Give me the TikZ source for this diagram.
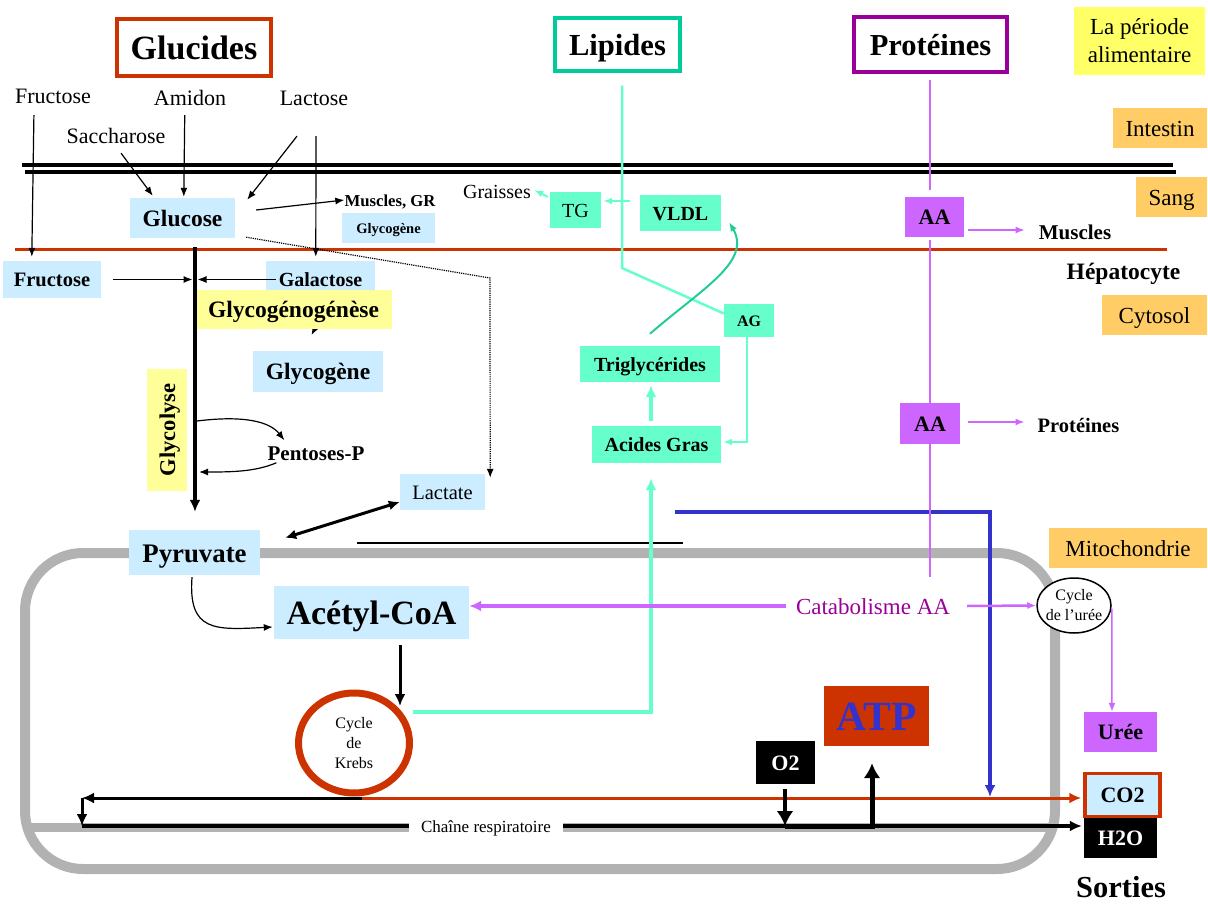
\documentclass[tikz,border=0pt]{standalone}
\usepackage{fontspec}
\setmainfont{Liberation Serif}
\usetikzlibrary{calc,arrows.meta,shapes.geometric,backgrounds}

\definecolor{brick}{HTML}{CC3300}
\definecolor{skyfill}{HTML}{CCECFF}
\definecolor{paleyel}{HTML}{FFFF99}
\definecolor{brightyel}{HTML}{FFFF66}
\definecolor{orangefill}{HTML}{FFCC66}
\definecolor{mint}{HTML}{66FFCC}
\definecolor{vldlgreen}{HTML}{22CC99}
\definecolor{lipteal}{HTML}{00CC99}
\definecolor{plum}{HTML}{990099}
\definecolor{lilac}{HTML}{CC66FF}
\definecolor{indigoline}{HTML}{3333CC}
\definecolor{membgray}{HTML}{B2B2B2}

\newcommand{\fsz}[1]{\fontsize{#1}{#1}\selectfont}

\tikzset{
	lbl/.style={inner sep=0pt, align=center, font=\fsz{#1}, text height=#1*0.72pt, text depth=0pt},
	lbl/.default=22,
	blbl/.style={inner sep=0pt, align=center, font=\fsz{#1}\bfseries, text height=#1*0.72pt, text depth=0pt},
	blbl/.default=22,
	skybox/.style={blbl=#1, fill=skyfill},
	skybox/.default=22,
	mintbox/.style={blbl=#1, fill=mint},
	mintbox/.default=20,
	lilacbox/.style={blbl=#1, fill=lilac},
	lilacbox/.default=22,
	blackbox/.style={blbl=#1, fill=black, text=white},
	blackbox/.default=22,
	tagbox/.style={lbl=23, fill=orangefill},
	titlebox/.style={blbl=#1, line width=3.5pt},
	thinarr/.style={-{Latex[length=9pt,width=7pt]}, line width=1.2pt},
	boldarr/.style={-{Latex[length=12pt,width=11pt]}, line width=3.5pt},
	bigarr/.style={-{Latex[length=15pt,width=17pt]}, line width=5pt},
	dblarr/.style={{Latex[length=11pt,width=10pt]}-{Latex[length=11pt,width=10pt]}, line width=3pt},
}

\begin{document}
\begin{tikzpicture}[x=1pt,y=-1pt]
	\useasboundingbox (0,0) rectangle (1208,904);

	%membranes
	\draw[line width=3.5pt] (22,165)--(1173,165);		%intestin, upper
	\draw[line width=3.5pt] (25,172)--(1176,172);		%intestin, lower
	\draw[brick,line width=3.5pt] (15,249.5)--(1167,249.5);	%hepatocyte
	\draw[membgray,line width=10pt,rounded corners=58pt] (25,553) rectangle (1055,869);	%mitochondrie
	\draw[membgray,line width=9pt] (25,827)--(1055,827);	%crete
	\draw[line width=1.5pt] (357,543)--(683,543);

	%titles
	\node[titlebox=34,draw=brick,minimum width=154,minimum height=57] (glucides) at (194,47.5) {Glucides};
	\node[titlebox=30.6,draw=lipteal,minimum width=125,minimum height=53] (lipides) at (617.5,44.5) {Lipides};
	\node[titlebox=30.5,draw=plum,minimum width=153,minimum height=55] (proteines) at (930.5,44.5) {Protéines};

	%compartments
	\node[inner sep=0pt,align=center,fill=brightyel,minimum width=131,minimum height=68,font=\fontsize{23}{28}\selectfont] (periode) at (1139.5,41) {La période\\alimentaire};
	\node[tagbox,minimum width=94,minimum height=40] (intestin) at (1160,128) {Intestin};
	\node[tagbox,minimum width=71,minimum height=40] (sang) at (1171.5,197) {Sang};
	\node[blbl=23.5] (hepato) at (1123.5,271) {Hépatocyte};
	\node[tagbox,minimum width=105,minimum height=40] (cytosol) at (1154.5,315) {Cytosol};
	\node[tagbox,minimum width=158,minimum height=40] (mito) at (1128,548) {Mitochondrie};

	%glucides
	\node[lbl] (fructA) at (53,96) {Fructose};
	\node[lbl] (amidon) at (190,98) {Amidon};
	\node[lbl] (lactose) at (314,98) {Lactose};
	\node[lbl] (saccharose) at (116,136) {Saccharose};
	\node[skybox=23.5,minimum width=105,minimum height=40] (glucose) at (182.5,218) {Glucose};
	\node[blbl=16.7] (musclesgr) at (390,200) {Muscles, GR};
	\node[skybox=14.5,minimum width=93,minimum height=30] (glycogeneM) at (388.5,228) {Glycogène};
	\node[skybox=20.5,minimum width=98,minimum height=37] (fructose) at (52,279.5) {Fructose};
	\node[skybox=20,minimum width=109,minimum height=37] (galactose) at (320.5,279.5) {Galactose};
	\node[blbl=23.5,fill=paleyel,minimum width=197,minimum height=39] (glycogenese) at (293.5,309.5) {Glycogénogénèse};
	\node[skybox=23.5,minimum width=130,minimum height=41] (glycogene) at (318,371.5) {Glycogène};
	\node[blbl=22.5,fill=paleyel,rotate=90,minimum width=122,minimum height=40] (glycolyse) at (167,430) {Glycolyse};
	\node[blbl=21] (pentoses) at (316,453) {Pentoses-P};
	\node[lbl=20.5,fill=skyfill,minimum width=85,minimum height=36] (lactate) at (442.5,492) {Lactate};
	\node[skybox=26.8,minimum width=131,minimum height=45] (pyruvate) at (194.5,552.5) {Pyruvate};
	\node[skybox=34,minimum width=195,minimum height=53] (acetyl) at (371.5,612.5) {Acétyl-CoA};
	\node[ellipse,draw=brick,line width=7pt,minimum width=111,minimum height=100,inner sep=0pt,align=center,font=\fontsize{16}{20}\selectfont] (krebs) at (354,743) {Cycle\\de\\Krebs};

	%lipides
	\node[lbl=20,fill=mint,minimum width=51,minimum height=36] (tg) at (575.5,210) {TG};
	\node[lbl=20] (graisses) at (497,191) {Graisses};
	\node[mintbox,minimum width=81,minimum height=36] (vldl) at (680.5,213) {VLDL};
	\node[mintbox=16,minimum width=50,minimum height=33] (ag) at (749,320.5) {AG};
	\node[mintbox,minimum width=140,minimum height=36] (trigly) at (650,364) {Triglycérides};
	\node[mintbox,minimum width=129,minimum height=37] (acidesgras) at (656.5,444.5) {Acides Gras};

	%proteines
	\node[lilacbox,minimum width=59,minimum height=40] (aa1) at (934.5,217) {AA};
	\node[blbl=21] (muscles) at (1075,232) {Muscles};
	\node[lilacbox,minimum width=60,minimum height=41] (aa2) at (930,423.5) {AA};
	\node[blbl=20.5] (proteinesB) at (1078.5,425) {Protéines};
	\node[lbl=23,text=plum] (catabolisme) at (873,606) {Catabolisme AA};
	\node[ellipse,draw,fill=white,line width=1.5pt,minimum width=74,minimum height=55,inner xsep=-5pt,inner ysep=0pt,align=center,font=\fontsize{16}{20}\selectfont] (cycleuree) at (1074,605.5) {Cycle\\de l’urée};

	%sorties
	\node[lilacbox,minimum width=73,minimum height=40] (uree) at (1120.5,732) {Urée};
	\node[blackbox,minimum width=73,minimum height=40] (h2o) at (1120.5,838) {H2O};
	\node[skybox,draw=brick,line width=3.5pt,minimum width=75,minimum height=43] (co2) at (1122.5,795) {CO2};
	\node[blbl=30.5] (sorties) at (1121,887) {Sorties};
	\node[blackbox,minimum width=59,minimum height=43] (o2) at (785.5,762.5) {O2};
	\node[blbl=41.5,fill=brick,text=indigoline,minimum width=105,minimum height=60] (atp) at (876.5,716) {ATP};
	\node[lbl=17,fill=white,minimum width=154,minimum height=14] (chaine) at (486,826) {Chaîne respiratoire};

	%glucides arrows
	\draw[thinarr] ($(fructA.south west)+(19,11)$) -- ($(fructose.north west)+(29,-4)$);
	\draw[thinarr] ($(amidon.south west)+(31,9)$) -- ($(glucose.north west)+(54,-1)$);
	\draw[thinarr] ($(saccharose.south)+(5,9)$) -- ($(glucose.north west)+(23,-2)$);
	\draw[thinarr] ($(lactose.south)+(-17,30)$) -- ($(glucose.north east)+(12,2)$);
	\draw[thinarr] ($(lactose.south)+(2,30)$) -- ($(galactose.north west)+(50,-4)$);
	\draw[thinarr] ($(glucose.east)+(21,-8)$) -- (musclesgr.west);
	\coordinate (dotbend) at (490,278);
	\draw[thinarr,densely dotted] ($(glucose.south east)+(11,-1)$) -- (dotbend) -- ($(lactate.north east)+(5,4)$);
	\draw[boldarr] ($(glucose.south)+(12.5,9)$) -- ($(pyruvate.north)+(0.5,-18)$);	%glycolyse
	\coordinate (junction) at (195,279.5);
	\draw[thinarr] ($(fructose.east)+(12,0)$) -- ($(junction)+(-2.5,0)$);
	\draw[thinarr] ($(galactose.west)+(10,0)$) -- ($(junction)+(2.5,0)$);
	\begin{scope}[on background layer]
		\draw[thinarr] ($(glycogenese.south)+(25,-8)$) -- ($(glycogenese.south)+(18,6)$);
	\end{scope}
	%pentoses
	\coordinate (pentout) at (197,421);
	\coordinate (pentin) at (199,472);
	\draw[thinarr] (pentout) .. controls (245,415) and (270,422) .. ($(pentoses.north west)+(17,-5)$);
	\draw[thinarr] ($(pentoses.south west)+(9,2)$) .. controls (255,472) and (230,472) .. (pentin);
	\draw[dblarr] ($(pyruvate.north east)+(25,8)$) -- ($(lactate.west)+(0,10)$);
	\draw[thinarr] ($(pyruvate.south)+(-2.5,2)$) .. controls (188,632) and (215,630) .. ($(acetyl.west)+(-1,14.5)$);
	\draw[boldarr,line width=3pt] ($(acetyl.south)+(28.5,6)$) -- ($(krebs.center)+(46,-37)$);

	%chaine respiratoire
	\coordinate (chainL) at (82,798);
	\coordinate (chainB) at (82,826);
	\draw[brick,boldarr,line width=3pt] ($(krebs.center)+(8,55)$) -- ($(co2.west)+(-2,3)$);
	\draw[boldarr,line width=3pt] ($(krebs.center)+(8,55)$) -- (chainL);
	\draw[boldarr,line width=3pt] (chainL) -- (chainB);
	\draw[line width=4pt] (chainB) -- (chaine.west);
	\draw[boldarr,line width=4pt] (chaine.east) -- ($(h2o.west)+(-2,-12)$);
	\coordinate (o2in) at (785,826);
	\draw[bigarr,line width=4pt] ($(o2.south)+(-0.5,5)$) -- (o2in);
	\draw[bigarr] (o2in) -| ($(atp.south)+(-4.5,17)$);
	\coordinate (bluestart) at (675,512);
	\coordinate (bluedrop) at (990,797);
	\draw[indigoline,boldarr,line width=4pt] (bluestart) -| (bluedrop);

	%lipides arrows
	\draw[mint,boldarr,line width=4pt] ($(krebs.center)+(59,-31)$) -| ($(acidesgras.south)+(-5.5,15)$);
	\draw[mint,boldarr,line width=4pt] ($(acidesgras.north)+(-5.5,-5)$) -- ($(trigly.south)+(1,3)$);
	\draw[mint,thinarr,line width=2.5pt] ($(ag.south)+(-2,0)$) |- ($(acidesgras.east)+(2,-2.5)$);
	\coordinate (lipbend) at (622,268);
	\draw[mint,line width=2.5pt] ($(lipides.south)+(4.5,13)$) -- (lipbend) -- ($(ag.west)+(0,-7)$);
	\coordinate (tgfeed) at (630,201);
	\draw[mint,thinarr,line width=2pt] (tgfeed) -- ($(tg.east)+(2,-9)$);
	\draw[mint,thinarr,line width=2pt] ($(tg.north west)+(-2,5)$) -- ($(graisses.east)+(3,-1)$);
	\draw[vldlgreen,thinarr,line width=2pt] ($(trigly.north)+(0,-12)$) .. controls (700,290) and (752,262) .. ($(vldl.south east)+(8,-9)$);

	%proteines arrows
	\draw[lilac,line width=2pt] ($(proteines.south)+(-0.5,6)$) -- ($(aa1.north)+(-4.5,-7)$);
	\draw[lilac,line width=2pt] ($(aa1.south)+(-4.5,3)$) -- (aa2.north);
	\coordinate (aaend) at (930,577);
	\draw[lilac,line width=2pt] (aa2.south) -- (aaend);
	\draw[lilac,thinarr,line width=1.5pt] ($(aa1.east)+(4,13)$) -- ($(muscles.west)+(-14,-2)$);
	\draw[lilac,thinarr,line width=1.5pt] ($(aa2.east)+(8,-1.5)$) -- ($(proteinesB.west)+(-13,-3)$);
	\draw[lilac,boldarr,line width=3.5pt] ($(catabolisme.west)+(-10,0)$) -- ($(acetyl.east)+(0,-6.5)$);
	\draw[lilac,thinarr,line width=2.5pt] ($(catabolisme.east)+(17,0)$) -- (cycleuree.west);
	\draw[lilac,thinarr,line width=1.5pt] ($(cycleuree.east)+(0,3)$) -- ($(uree.north)+(-8.5,0)$);
\end{tikzpicture}
\end{document}
